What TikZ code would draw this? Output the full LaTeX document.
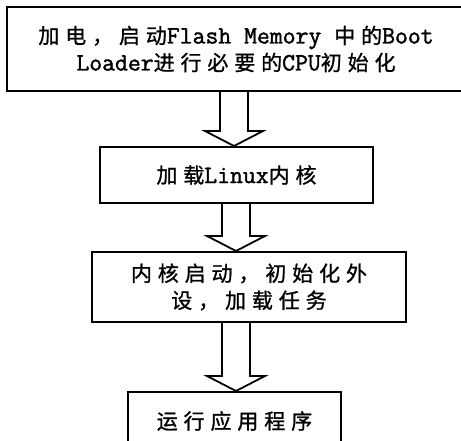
\documentclass[tikz,border=0pt]{standalone}
\usepackage{fontspec}
\newfontfamily\cjkfont[LetterSpace=28,FakeBold=1]{Noto Sans CJK SC}
\newfontfamily\latfont[FakeBold=1.5]{Latin Modern Mono}
\usetikzlibrary{calc}
\newcommand\ck[1]{{\cjkfont\fontsize{21}{27}\selectfont #1}}
\newcommand\lt[1]{{\latfont\fontsize{25}{27}\selectfont #1}}
\tikzset{
  box/.style={draw=black, line width=2pt, inner sep=0pt, align=center,
    font=\fontsize{21}{27}\selectfont},
  blockarr/.style={draw=black, line width=1.8pt, fill=white, line join=miter},
}
\newcommand\barrow[3]{%
  \draw[blockarr] let \p1=(#1.south), \p2=(#2.north) in
    (#3pt-14pt,\y1) -- (#3pt-14pt,\y2+15pt) -- (#3pt-29pt,\y2+15pt) --
    (#3pt,\y2) -- (#3pt+29pt,\y2+15pt) -- (#3pt+14pt,\y2+15pt) -- (#3pt+14pt,\y1);}
\begin{document}
\begin{tikzpicture}[x=1pt,y=1pt]
  \useasboundingbox (0,0) rectangle (461,-440);
  \fill[white] (0,0) rectangle (461,-440);
  \clip (0,0) rectangle (461,-440);
  \node[box, minimum width=458pt, minimum height=84pt] (b1) at (236,-49)
    {\ck{加电，启动}\lt{Flash Memory }\ck{中的}\lt{Boot}\\
     \lt{Loader}\ck{进行必要的}\lt{CPU}\ck{初始化}};
  \node[box, minimum width=273pt, minimum height=56pt] (b2) at (236.5,-175)
    {\ck{加载}\lt{Linux}\ck{内核}};
  \node[box, minimum width=314pt, minimum height=70pt] (b3) at (249,-287)
    {\ck{内核启动，初始化外}\\ \ck{设，加载任务}};
  \node[box, minimum width=213pt, minimum height=58pt] (b4) at (234.5,-421)
    {\ck{运行应用程序}};
  \barrow{b1}{b2}{234}
  \barrow{b2}{b3}{236}
  \barrow{b3}{b4}{236}
\end{tikzpicture}
\end{document}
